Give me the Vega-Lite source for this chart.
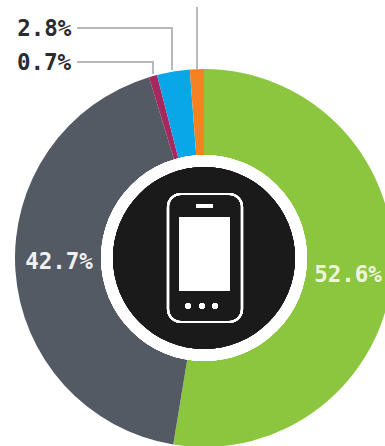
{
  "$schema": "https://vega.github.io/schema/vega-lite/v6.json",
  "width": 408,
  "height": 516,
  "padding": 0,
  "autosize": "none",
  "background": "#ffffff",
  "view": {"stroke": null},
  "data": {"values": [
    {"share": "52.6%", "value": 52.6, "rank": 1, "color": "green"},
    {"share": "42.7%", "value": 42.7, "rank": 2, "color": "slate"},
    {"share": "0.7%", "value": 0.7, "rank": 3, "color": "crimson"},
    {"share": "2.8%", "value": 2.8, "rank": 4, "color": "blue"},
    {"share": "1.2%", "value": 1.2, "rank": 5, "color": "orange"}
  ]},
  "encoding": {
    "theta": {"field": "value", "type": "quantitative", "stack": true},
    "order": {"field": "rank", "type": "ordinal"}
  },
  "layer": [
    {
      "mark": {"type": "point", "filled": false, "shape": "M-127,-230H-32V-188M-127,-196H-51V-184M-7,-251V-189", "size": 4, "stroke": "#b7babd", "strokeWidth": 1.5, "opacity": 1},
      "encoding": {"theta": null, "order": null}
    },
    {
      "mark": {"type": "arc", "innerRadius": 95, "outerRadius": 189},
      "encoding": {
        "color": {
          "field": "color",
          "type": "nominal",
          "legend": null,
          "scale": {
            "domain": ["green", "slate", "crimson", "blue", "orange"],
            "range": ["#8cc63f", "#545a63", "#a6285f", "#0aa7e8", "#f58220"]
          }
        }
      }
    },
    {
      "mark": {"type": "arc", "innerRadius": 0, "outerRadius": 103, "fill": "#ffffff"},
      "encoding": {"theta": null, "order": null}
    },
    {
      "mark": {"type": "arc", "innerRadius": 0, "outerRadius": 91, "fill": "#1b1a1a"},
      "encoding": {"theta": null, "order": null}
    },
    {
      "mark": {"type": "point", "filled": false, "shape": "M-23,-64H25A13,13 0 0 1 38,-51V51A13,13 0 0 1 25,64H-23A13,13 0 0 1 -36,51V-51A13,13 0 0 1 -23,-64Z", "size": 4, "stroke": "#ffffff", "strokeWidth": 2.2, "opacity": 1},
      "encoding": {"theta": null, "order": null}
    },
    {
      "mark": {"type": "point", "filled": true, "shape": "M-25,-41H26V33H-25ZM-8,-54H9V-50.5H-8ZM-13,48A3,3 0 1 1 -13,47.9ZM1,48A3,3 0 1 1 1,47.9ZM14,48A3,3 0 1 1 14,47.9Z", "size": 4, "fill": "#ffffff", "opacity": 1},
      "encoding": {"theta": null, "order": null}
    },
    {
      "mark": {"type": "text", "radius": 144.5, "dy": 5, "font": "DejaVu Sans Mono", "fontWeight": "bold", "fontSize": 22.5, "fill": "#eef5dc"},
      "encoding": {"text": {"condition": {"test": "datum.rank == 1", "field": "share"}, "value": ""}}
    },
    {
      "mark": {"type": "text", "radius": 145.3, "dy": -6, "font": "DejaVu Sans Mono", "fontWeight": "bold", "fontSize": 22.5, "fill": "#f0f0f2"},
      "encoding": {"text": {"condition": {"test": "datum.rank == 2", "field": "share"}, "value": ""}}
    },
    {
      "mark": {"type": "text", "radius": 189, "dx": -129, "dy": -43, "font": "DejaVu Sans Mono", "fontWeight": "bold", "fontSize": 22.5, "fill": "#2b2c30"},
      "encoding": {"text": {"condition": {"test": "datum.rank == 4", "field": "share"}, "value": ""}}
    },
    {
      "mark": {"type": "text", "radius": 189, "dx": -109, "dy": -13, "font": "DejaVu Sans Mono", "fontWeight": "bold", "fontSize": 22.5, "fill": "#2b2c30"},
      "encoding": {"text": {"condition": {"test": "datum.rank == 3", "field": "share"}, "value": ""}}
    }
  ]
}
